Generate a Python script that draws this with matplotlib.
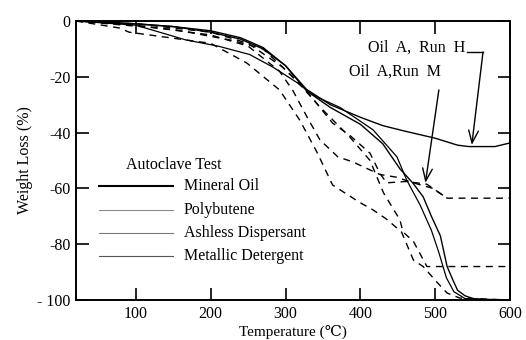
import matplotlib
matplotlib.use("Agg")
import matplotlib.pyplot as plt

plt.rcParams['font.family'] = ['Liberation Serif', 'DejaVu Serif', 'DejaVu Sans']

# ---- data ----
run_h_x = [20, 60, 100, 150, 200, 240, 270, 300, 328, 360, 400, 430, 460, 500, 530, 545, 580, 600]
run_h_y = [0, -0.5, -1, -2, -4, -6.5, -10, -16, -24.5, -30, -34.5, -37.5, -39.5, -42, -44.5, -45, -45, -43.7]

run_m_x = [20, 100, 150, 200, 240, 270, 300, 328, 360, 400, 430, 453, 470, 484, 495, 507, 516, 524, 530, 540, 551, 570, 600]
run_m_y = [0, -1, -2, -3.5, -6, -9.5, -16, -25, -31, -37, -44, -53, -58, -63, -70, -77, -88, -93, -96.5, -98.5, -99.5, -100, -100]

solid3_x = [20, 100, 167, 210, 252, 283, 315, 340, 373, 417, 449, 462, 480, 495, 505, 515, 525, 540, 600]
solid3_y = [0, -1.5, -6.8, -9, -12, -16.5, -22, -27, -31, -39, -48.7, -57, -66, -75, -83, -92, -97, -99.5, -100]

dash1_x = [20, 150, 230, 270, 310, 346, 386, 413, 431, 453, 457, 471, 489, 516, 600]
dash1_y = [0, -3, -7, -10, -20, -30.8, -41.6, -50, -61.6, -71.3, -75.6, -79, -88, -88, -88]

dash2_x = [20, 100, 200, 250, 296, 328, 363, 386, 413, 426, 435, 462, 489, 516, 600]
dash2_y = [0, -1, -4, -8, -16.5, -25, -36.6, -41, -47.4, -54.5, -58, -57.5, -58.5, -63.5, -63.5]

dash3_x = [20, 100, 200, 250, 292, 310, 328, 346, 370, 390, 426, 449, 467, 497, 516]
dash3_y = [0, -1.5, -5, -9, -18, -25, -34, -42.6, -48.7, -50.5, -55, -56, -57.7, -60, -63.5]

dash4_x = [20, 78, 91, 200, 248, 292, 319, 342, 363, 399, 417, 435, 455, 471, 484, 502, 516, 533, 600]
dash4_y = [0, -2.5, -4, -8, -15, -24.7, -35.5, -47, -58.8, -65, -67.7, -71, -75.6, -85.7, -88, -93.5, -97.5, -99.3, -100]

legend_labels = ["Mineral Oil", "Polybutene", "Ashless Dispersant", "Metallic Detergent"]
legend_title = "Autoclave Test"
x_ticks = [100, 200, 300, 400, 500, 600]
y_ticks = [0, -20, -40, -60, -80, -100]
y_tick_labels = ["0", "-20", "-40", "-60", "-80", "- 100"]

fig = plt.figure(figsize=(5.26, 3.40), dpi=100)
ax = fig.add_axes([0.1445, 0.1176, 0.825, 0.8206])

ax.plot(run_h_x, run_h_y, color='black', lw=1.0)
ax.plot(run_m_x, run_m_y, color='black', lw=1.0)
ax.plot(solid3_x, solid3_y, color='black', lw=0.9)
for xs, ys in [(dash1_x, dash1_y), (dash2_x, dash2_y), (dash3_x, dash3_y), (dash4_x, dash4_y)]:
    ax.plot(xs, ys, color='black', lw=1.0, dashes=(5, 4))

ax.set_xlim(20, 600)
ax.set_ylim(-100, 0)
ax.set_xticks(x_ticks)
ax.set_xticklabels([str(v) for v in x_ticks], fontsize=11.5)
ax.set_yticks(y_ticks)
ax.set_yticklabels(y_tick_labels, fontsize=11.5)
ax.tick_params(direction='in', top=True, right=True, length=9, width=1.2, pad=4)
for s in ax.spines.values():
    s.set_linewidth(1.4)

ax.set_xlabel("Temperature (\u2103)", fontsize=11, labelpad=2)
ax.set_ylabel("Weight Loss (%)", fontsize=11.5, labelpad=3)

# legend drawn by hand (as in the reference)
ax.text(150, -51.6, legend_title, fontsize=11.5, ha='center', va='center')
leg_y = [-59.1, -67.7, -76.0, -84.2]
leg_colors = ['black', '#8a8a8a', '#7a7a7a', '#555555']
leg_lw = [1.5, 0.8, 0.8, 0.8]
for lab, yy, c, lw in zip(legend_labels, leg_y, leg_colors, leg_lw):
    ax.plot([51, 149], [yy, yy], color=c, lw=lw)
    ax.text(164, yy, lab, fontsize=11.5, ha='left', va='center')

# annotations
ax.text(541, -9.7, "Oil  A,  Run  H", fontsize=11.5, ha='right', va='center')
ax.plot([543, 564], [-11.1, -11.1], color='black', lw=1.0)
ax.annotate("", xy=(549, -44.4), xytext=(564, -11.1),
            arrowprops=dict(arrowstyle='->,head_length=0.9,head_width=0.35', color='black', lw=1.0,
                            shrinkA=0, shrinkB=0))
ax.text(446, -18.3, "Oil  A,Run  M", fontsize=11.5, ha='center', va='center')
ax.annotate("", xy=(487, -58), xytext=(505, -24.7),
            arrowprops=dict(arrowstyle='->,head_length=0.9,head_width=0.35', color='black', lw=1.0,
                            shrinkA=0, shrinkB=0))

fig.savefig("out.png", dpi=100)
